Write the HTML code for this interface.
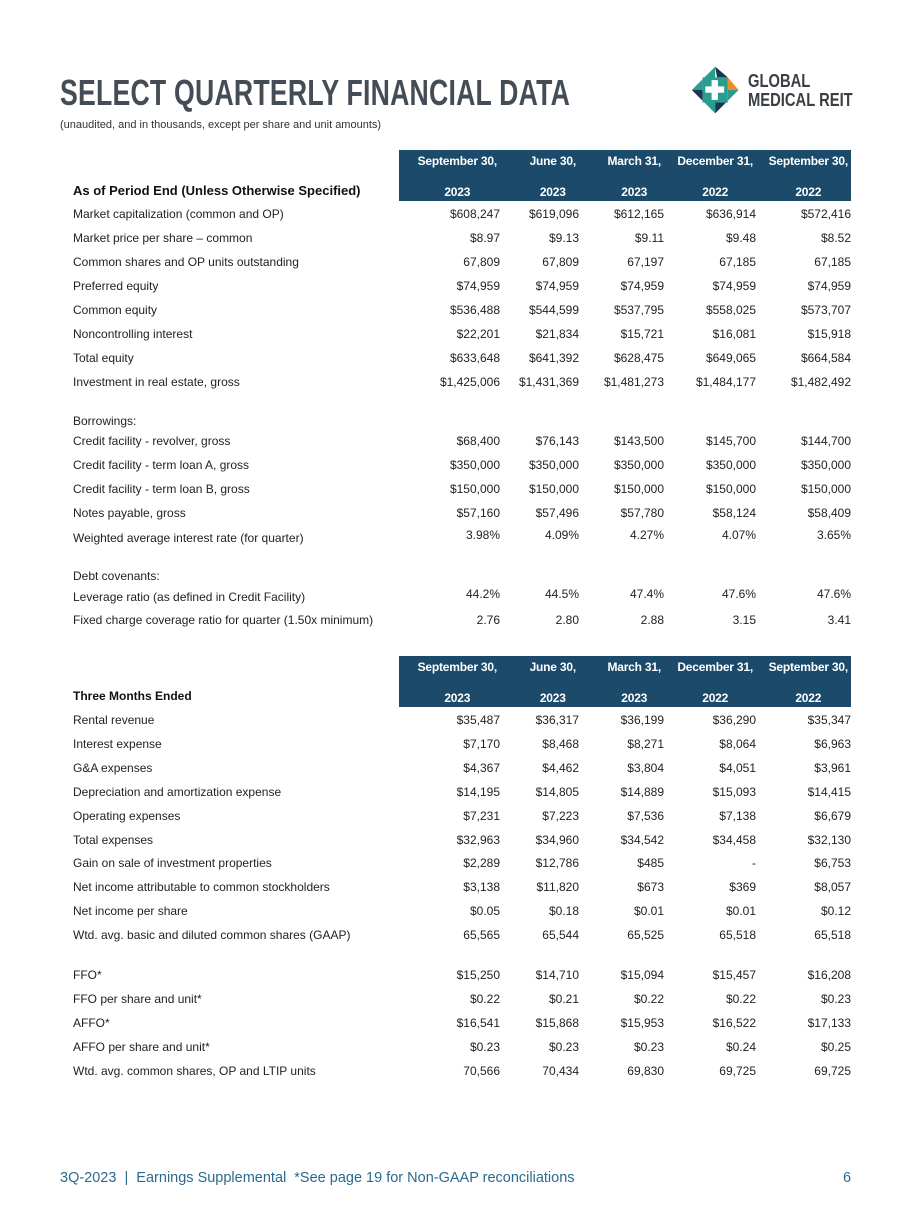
<!DOCTYPE html>
<html><head><meta charset="utf-8"><style>
body{margin:0;width:924px;height:1232px;background:#fff;position:relative;font-family:"Liberation Sans",sans-serif;color:#222;overflow:hidden}
.a{position:absolute;white-space:nowrap}
.t{font-size:12px;line-height:14px}
.r{text-align:right}
.hd{position:absolute;background:#1b4a6b;color:#fff;font-size:12px;font-weight:bold}
.ib{display:inline-block;text-align:center;line-height:31px}
</style></head><body>
<div class="a" style="left:60px;top:72px;font-size:36px;font-weight:bold;color:#444c55;transform:scaleX(0.74);transform-origin:left top;letter-spacing:0.3px">SELECT QUARTERLY FINANCIAL DATA</div>
<div class="a" style="left:60px;top:119px;font-size:11px;color:#333">(unaudited, and in thousands, except per share and unit amounts)</div>
<div class="a" style="left:690px;top:64px;width:175px;height:56px">
<svg width="54" height="52" viewBox="0 0 60 56" style="position:absolute;left:0;top:0">
<polygon points="28,2 42,14 30,14" fill="#1c3550"/>
<polygon points="14,16 28,2 28,16" fill="#2a9d8f"/>
<polygon points="2,28 14,16 14,28" fill="#2a9d8f"/>
<polygon points="2,28 14,28 14,40 " fill="#1c3550"/>
<polygon points="14,40 28,40 28,54" fill="#2a9d8f"/>
<polygon points="28,54 28,40 42,40" fill="#1c3550"/>
<polygon points="42,14 54,28 42,28" fill="#f08a24"/>
<polygon points="42,28 54,28 42,40" fill="#2a9d8f"/>
<rect x="14" y="14" width="28" height="28" fill="#2a9d8f"/>
<rect x="24" y="17" width="7" height="22" fill="#fff"/>
<rect x="17" y="24" width="21" height="7" fill="#fff"/>
</svg>
<div class="a" style="left:58px;top:8px;font-size:18px;line-height:19px;color:#3a3f44;font-weight:bold;transform:scaleX(0.82);transform-origin:left top">GLOBAL<br>MEDICAL REIT</div>
</div>
<div id="root"></div>
<div class="a" style="left:60px;top:1170px;font-size:14.5px;color:#2a6a8e">3Q-2023 &nbsp;|&nbsp; Earnings Supplemental &nbsp;*See page 19 for Non-GAAP reconciliations</div>
<div class="a" style="left:843px;top:1170px;font-size:14.5px;color:#2a6a8e">6</div>
<script>
const colRight=[500,579,664,756,851];
const hdr1=["September 30,","June 30,","March 31,","December 31,","September 30,"];
const hdr2=["2023","2023","2023","2022","2022"];
const t1=[
[214,"Market capitalization (common and OP)",["$608,247","$619,096","$612,165","$636,914","$572,416"]],
[238,"Market price per share – common",["$8.97","$9.13","$9.11","$9.48","$8.52"]],
[262,"Common shares and OP units outstanding",["67,809","67,809","67,197","67,185","67,185"]],
[286,"Preferred equity",["$74,959","$74,959","$74,959","$74,959","$74,959"]],
[310,"Common equity",["$536,488","$544,599","$537,795","$558,025","$573,707"]],
[334,"Noncontrolling interest",["$22,201","$21,834","$15,721","$16,081","$15,918"]],
[358,"Total equity",["$633,648","$641,392","$628,475","$649,065","$664,584"]],
[382,"Investment in real estate, gross",["$1,425,006","$1,431,369","$1,481,273","$1,484,177","$1,482,492"]],
[421,"Borrowings:",null],
[441,"Credit facility - revolver, gross",["$68,400","$76,143","$143,500","$145,700","$144,700"]],
[465,"Credit facility - term loan A, gross",["$350,000","$350,000","$350,000","$350,000","$350,000"]],
[489,"Credit facility - term loan B, gross",["$150,000","$150,000","$150,000","$150,000","$150,000"]],
[513,"Notes payable, gross",["$57,160","$57,496","$57,780","$58,124","$58,409"]],
[538,"Weighted average interest rate (for quarter)",["3.98%","4.09%","4.27%","4.07%","3.65%"],-3],
[576,"Debt covenants:",null],
[597,"Leverage ratio (as defined in Credit Facility)",["44.2%","44.5%","47.4%","47.6%","47.6%"],-3],
[620,"Fixed charge coverage ratio for quarter (1.50x minimum)",["2.76","2.80","2.88","3.15","3.41"]]
];
const t2=[
[720,"Rental revenue",["$35,487","$36,317","$36,199","$36,290","$35,347"]],
[744,"Interest expense",["$7,170","$8,468","$8,271","$8,064","$6,963"]],
[768,"G&A expenses",["$4,367","$4,462","$3,804","$4,051","$3,961"]],
[792,"Depreciation and amortization expense",["$14,195","$14,805","$14,889","$15,093","$14,415"]],
[816,"Operating expenses",["$7,231","$7,223","$7,536","$7,138","$6,679"]],
[840,"Total expenses",["$32,963","$34,960","$34,542","$34,458","$32,130"]],
[863,"Gain on sale of investment properties",["$2,289","$12,786","$485","-","$6,753"]],
[887,"Net income attributable to common stockholders",["$3,138","$11,820","$673","$369","$8,057"]],
[911,"Net income per share",["$0.05","$0.18","$0.01","$0.01","$0.12"]],
[935,"Wtd. avg. basic and diluted common shares (GAAP)",["65,565","65,544","65,525","65,518","65,518"]],
[975,"FFO*",["$15,250","$14,710","$15,094","$15,457","$16,208"]],
[999,"FFO per share and unit*",["$0.22","$0.21","$0.22","$0.22","$0.23"]],
[1023,"AFFO*",["$16,541","$15,868","$15,953","$16,522","$17,133"]],
[1047,"AFFO per share and unit*",["$0.23","$0.23","$0.23","$0.24","$0.25"]],
[1071,"Wtd. avg. common shares, OP and LTIP units",["70,566","70,434","69,830","69,725","69,725"]]
];
const root=document.getElementById('root');
function div(cls,style,text){const d=document.createElement('div');d.className=cls;d.style.cssText=style;d.textContent=text;root.appendChild(d);return d;}
function header(top,title,bold){
  const h=div('hd','left:399px;top:'+top+'px;width:452px;height:51px','');
  
  
  colRight.forEach((x,i)=>{
    const c=div('a','left:'+(x-120)+'px;width:117px;top:'+(top-4)+'px;text-align:right;color:#fff;font-weight:bold;font-size:12px;letter-spacing:-0.2px','');
    
    
    const s=document.createElement('span');
    s.className='ib';
    s.innerHTML=hdr1[i]+'<br>'+hdr2[i];
    c.appendChild(s);
  });
  const t=div('a','left:73px;top:'+(top+33)+'px;font-size:'+(bold?13:12)+'px;font-weight:bold;color:#111',title);
  
  
}
function rows(list){
  list.forEach(r=>{
    const l=div('a t','left:73px;top:'+(r[0]-7)+'px',r[1]);
    
    
    if(r[2]) r[2].forEach((v,i)=>{
      const c=div('a t r','left:'+(colRight[i]-100)+'px;width:100px;top:'+(r[0]-7+(r[3]||0))+'px',v);
      
      
    });
  });
}
header(150,"As of Period End (Unless Otherwise Specified)",true);
rows(t1);
header(656,"Three Months Ended",false);
rows(t2);
</script>
</body></html>
